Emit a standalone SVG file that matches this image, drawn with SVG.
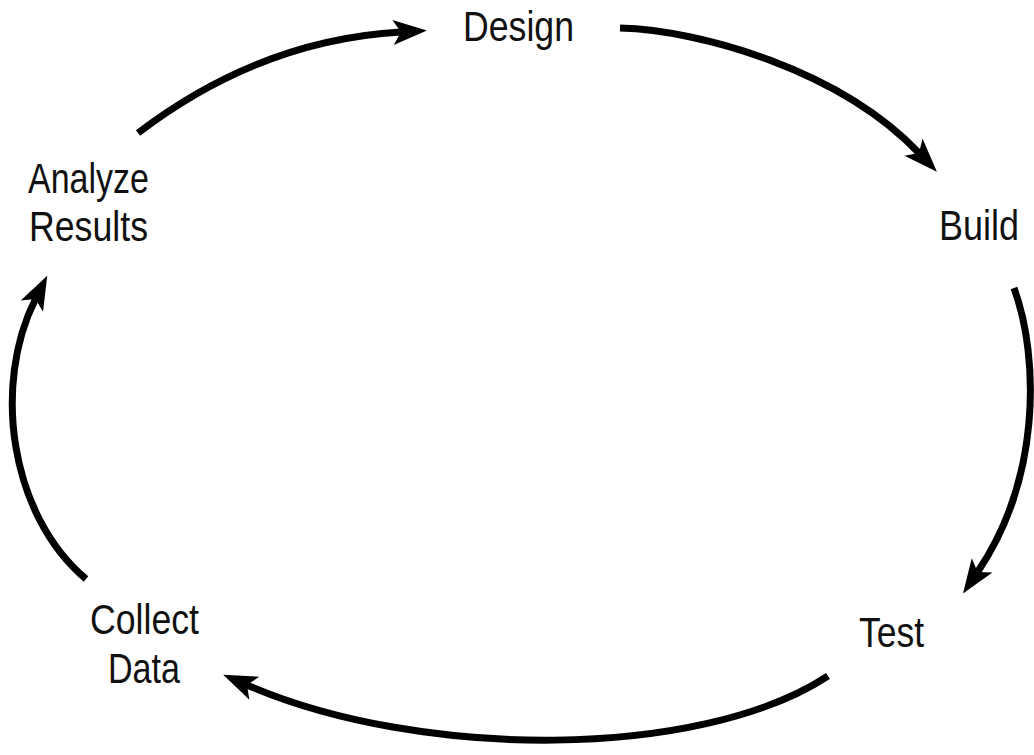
<svg xmlns="http://www.w3.org/2000/svg" width="1034" height="755" viewBox="0 0 1034 755">
<defs>
<style>
.lbl{font-family:"Liberation Sans",Arial,sans-serif;font-size:42px;fill:#111}
.arc{fill:none;stroke:#000;stroke-width:7;stroke-linecap:butt}
</style>
<marker id="ah" markerUnits="userSpaceOnUse" viewBox="0 -13 35 26" refX="8" refY="0" markerWidth="35" markerHeight="26" orient="auto" overflow="visible">
<path d="M0,-12.5 L34,0 L0,12.5 L8,0 Z" fill="#000"/>
</marker>
</defs>
<rect width="1034" height="755" fill="#fff"/>
<g id="connectors">
<path class="arc" d="M138,133 Q260,40 401,32" marker-end="url(#ah)"/>
<path class="arc" d="M620,28 C700,30 840,70 919,153" marker-end="url(#ah)"/>
<path class="arc" d="M1014,288 C1040,360 1040,480 977.6,572" marker-end="url(#ah)"/>
<path class="arc" d="M828,676 C700,760 420,760 247,685" marker-end="url(#ah)"/>
<path class="arc" d="M86,579 C10,515 -8,385 35.5,299" marker-end="url(#ah)"/>
</g>
<g id="design"><text class="lbl" x="463" y="41" textLength="111" lengthAdjust="spacingAndGlyphs">Design</text></g>
<g id="build"><text class="lbl" x="939" y="240" textLength="80" lengthAdjust="spacingAndGlyphs">Build</text></g>
<g id="test"><text class="lbl" x="859" y="647" textLength="65" lengthAdjust="spacingAndGlyphs">Test</text></g>
<g id="collect-data"><text class="lbl" x="90" y="634" textLength="109" lengthAdjust="spacingAndGlyphs">Collect</text><text class="lbl" x="108" y="683" textLength="72" lengthAdjust="spacingAndGlyphs">Data</text></g>
<g id="analyze-results"><text class="lbl" x="28" y="193" textLength="121" lengthAdjust="spacingAndGlyphs">Analyze</text><text class="lbl" x="29" y="241" textLength="119" lengthAdjust="spacingAndGlyphs">Results</text></g>
</svg>
